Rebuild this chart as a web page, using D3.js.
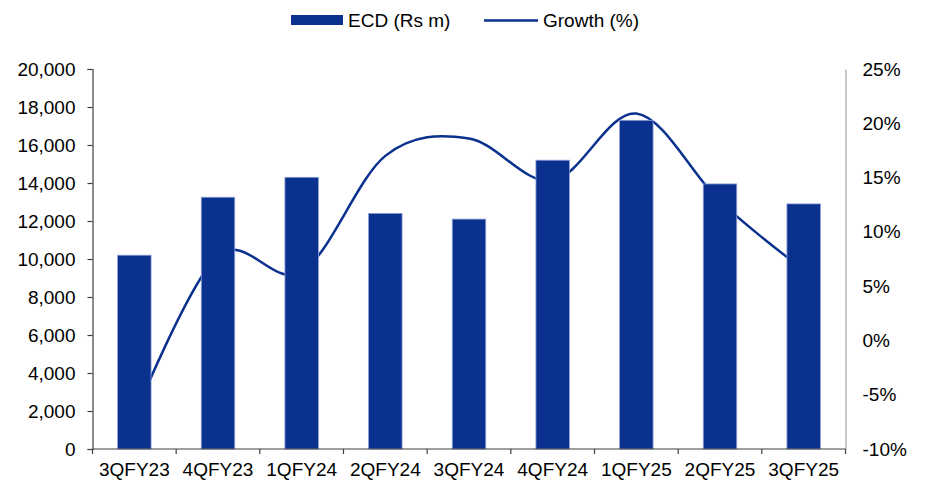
<!DOCTYPE html>
<html>
<head>
<meta charset="utf-8">
<script src="https://cdn.jsdelivr.net/npm/d3@7"></script>
<style>
  html, body { margin: 0; padding: 0; background: #fff; }
  svg { display: block; font-family: "Liberation Sans", Arial, sans-serif; }
</style>
</head>
<body>
<svg id="chart" width="925" height="486"></svg>
<script>
const categories = ["3QFY23","4QFY23","1QFY24","2QFY24","3QFY24","4QFY24","1QFY25","2QFY25","3QFY25"];
const ecdValues = [10200, 13250, 14300, 12400, 12100, 15200, 17300, 13950, 12900];
const growthValues = [-7.0, 7.8, 6.3, 17.0, 18.6, 14.7, 20.9, 12.8, 6.5];
const leftTicks = [0,2000,4000,6000,8000,10000,12000,14000,16000,18000,20000];
const rightTicks = [-10,-5,0,5,10,15,20,25];
const seriesNames = ["ECD (Rs m)", "Growth (%)"];

const barColor = "#0B318F";
const lineColor = "#0B318F";

const svg = d3.select("#chart");
const m = {left: 92.5, right: 845.5, top: 69, bottom: 449};

const x = d3.scaleBand().domain(categories).range([m.left, m.right]).paddingInner(0).paddingOuter(0);
const yL = d3.scaleLinear().domain([0, 20000]).range([m.bottom, m.top]);
const yR = d3.scaleLinear().domain([-10, 25]).range([m.bottom, m.top]);

// line (behind bars)
const line = d3.line()
  .x((d, i) => x(categories[i]) + x.bandwidth() / 2)
  .y(d => yR(d))
  .curve(d3.curveCardinal.tension(0));
svg.append("path")
  .datum(growthValues)
  .attr("d", line)
  .attr("fill", "none")
  .attr("stroke", lineColor)
  .attr("stroke-width", 2.5);

// bars
const bw = x.bandwidth() * 0.4;
svg.append("g").selectAll("rect").data(ecdValues).join("rect")
  .attr("x", (d, i) => x(categories[i]) + x.bandwidth() / 2 - bw / 2)
  .attr("y", d => yL(d))
  .attr("width", bw)
  .attr("height", d => yL(0) - yL(d))
  .attr("fill", barColor)
  .attr("stroke", "#8c9fd8")
  .attr("stroke-width", 0.8);

const fs = 19;

// left axis
const gL = svg.append("g").attr("transform", `translate(${m.left},0)`)
  .call(d3.axisLeft(yL).tickValues(leftTicks).tickFormat(d3.format(",")).tickSize(5).tickPadding(12));
gL.select(".domain").attr("stroke", "#404040").attr("stroke-width", 1.2);
gL.selectAll(".tick line").attr("stroke", "#404040").attr("stroke-width", 1.2);
gL.selectAll("text").attr("font-size", fs).attr("fill", "#000").attr("font-family", "Liberation Sans, Arial, sans-serif");

// right axis
const gR = svg.append("g").attr("transform", `translate(${m.right},0)`)
  .call(d3.axisRight(yR).tickValues(rightTicks).tickFormat(d => d + "%").tickSize(0).tickPadding(17));
gR.select(".domain").attr("stroke", "#a6a6a6").attr("stroke-width", 1.2);
gR.selectAll("text").attr("font-size", fs).attr("fill", "#000").attr("font-family", "Liberation Sans, Arial, sans-serif");

// x axis
const gX = svg.append("g").attr("transform", `translate(0,${m.bottom})`);
gX.append("line").attr("x1", m.left).attr("x2", m.right).attr("y1", 0).attr("y2", 0)
  .attr("stroke", "#404040").attr("stroke-width", 1.2);
const bounds = categories.map(c => x(c)).concat([m.right]);
gX.selectAll("line.tk").data(bounds).join("line").attr("class", "tk")
  .attr("x1", d => d).attr("x2", d => d).attr("y1", 0).attr("y2", 5)
  .attr("stroke", "#404040").attr("stroke-width", 1.2);
gX.selectAll("text").data(categories).join("text")
  .attr("x", d => x(d) + x.bandwidth() / 2)
  .attr("y", 27)
  .attr("text-anchor", "middle")
  .attr("font-size", fs)
  .attr("fill", "#000")
  .text(d => d);

// legend
const lg = svg.append("g");
lg.append("rect").attr("x", 291).attr("y", 15).attr("width", 52).attr("height", 10).attr("fill", barColor);
lg.append("text").attr("x", 348).attr("y", 27).attr("font-size", fs).attr("fill", "#000").text(seriesNames[0]);
lg.append("line").attr("x1", 484).attr("x2", 538).attr("y1", 20.5).attr("y2", 20.5)
  .attr("stroke", lineColor).attr("stroke-width", 2.5);
lg.append("text").attr("x", 543).attr("y", 27).attr("font-size", fs).attr("fill", "#000").text(seriesNames[1]);
</script>
</body>
</html>
